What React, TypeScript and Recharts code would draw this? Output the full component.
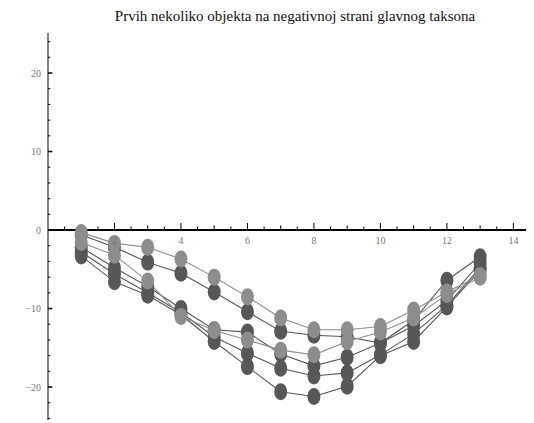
import { type JSX } from 'react';
import {
	LineChart,
	Line,
	XAxis,
	YAxis,
	ReferenceLine,
	ReferenceDot,
} from 'recharts';

// Podaci ocitani sa slike
const xValues = [1, 2, 3, 4, 5, 6, 7, 8, 9, 10, 11, 12, 13];
const light1 = [-0.3, -1.7, -2.2, -3.7, -6.0, -8.5, -11.2, -12.7, -12.7, -12.3, -10.2, -7.9, -5.8];
const dark1 = [-0.6, -2.2, -4.1, -5.5, -7.9, -10.4, -12.9, -13.4, -13.6, -14.4, -11.5, -6.4, -3.4];
const light2 = [-1.6, -3.2, -6.5, -11.0, -12.8, -14.0, -15.3, -15.9, -14.2, -13.0, -11.2, -8.2, -6.0];
const dark2 = [-2.2, -4.8, -7.2, -10.0, -12.7, -13.0, -15.8, -17.3, -16.2, -14.4, -12.2, -9.0, -4.2];
const dark3 = [-2.8, -5.6, -8.0, -10.5, -13.6, -15.7, -17.6, -18.6, -18.2, -15.9, -13.2, -9.6, -4.8];
const dark4 = [-3.3, -6.6, -8.3, -10.8, -14.2, -17.4, -20.6, -21.2, -19.9, -16.0, -14.2, -9.8, -5.1];

const xTickLabels = [2, 4, 6, 8, 10, 12, 14];
const yTickLabels = [-20, -10, 0, 10, 20];
const xMinorTicks = Array.from({ length: 29 }, (_, i) => i * 0.5).filter(v => v > 0);
const yMinorTicks = [-24, -22, -18, -16, -14, -12, -8, -6, -4, -2, 2, 4, 6, 8, 12, 14, 16, 18, 22, 24];
const yMajorTicks = [-20, -10, 10, 20];

const DARK = '#575757';
const LIGHT = '#8d8d8d';

// red crtanja: tamne prvo, svetle preko njih
const series = [
	{ key: 'd4', values: dark4, color: DARK },
	{ key: 'd3', values: dark3, color: DARK },
	{ key: 'd2', values: dark2, color: DARK },
	{ key: 'd1', values: dark1, color: DARK },
	{ key: 'l2', values: light2, color: LIGHT },
	{ key: 'l1', values: light1, color: LIGHT },
];

const data = xValues.map((x, i) => {
	const row: Record<string, number> = { x };
	series.forEach(s => {
		row[s.key] = s.values[i];
	});
	return row;
});

const labelStyle = {
	fontFamily: '"Liberation Serif", serif',
	fontSize: 10,
	fill: '#777',
};

function makeDot(color: string) {
	return (props: any) => {
		const { cx, cy, index } = props;
		if (cx == null || cy == null) return <g key={index} />;
		return <ellipse key={index} cx={cx} cy={cy} rx={6.5} ry={8.5} fill={color} />;
	};
}

export default function App(): JSX.Element {
	return (
		<div style={{ position: 'relative', width: 526, height: 415, background: '#fff' }}>
			<div
				style={{
					position: 'absolute',
					top: 0,
					left: 0,
					width: 574,
					textAlign: 'center',
					fontFamily: '"Liberation Serif", serif',
					fontSize: 15,
					color: '#111',
				}}
			>
				Prvih nekoliko objekta na negativnoj strani glavnog taksona
			</div>
			<LineChart
				width={526}
				height={415}
				data={data}
				margin={{ top: 25, right: 4, bottom: 3, left: 0 }}
			>
				<XAxis type="number" dataKey="x" domain={[0, 14.5]} hide allowDataOverflow />
				<YAxis
					type="number"
					domain={[-24.2, 25.1]}
					ticks={yTickLabels}
					width={40}
					allowDataOverflow
					axisLine={{ stroke: '#000', strokeWidth: 1 }}
					tickLine={false}
					tickSize={5}
					tickMargin={2}
					tick={labelStyle}
					tickFormatter={(v: number) => (v < 0 ? `\u2212${-v}` : `${v}`)}
				/>

				{/* os x kroz nulu */}
				<ReferenceLine y={0} stroke="#000" strokeWidth={2} />
				{xMinorTicks.map(v => (
					<ReferenceLine
						key={`xt${v}`}
						segment={[
							{ x: v, y: 0 },
							{ x: v, y: v % 2 === 0 ? 0.9 : v % 1 === 0 ? 0.6 : 0.45 },
						]}
						stroke="#000"
						strokeWidth={1}
					/>
				))}
				{yMinorTicks.map(v => (
					<ReferenceLine
						key={`yt${v}`}
						segment={[
							{ x: 0, y: v },
							{ x: 0.07, y: v },
						]}
						stroke="#000"
						strokeWidth={1}
					/>
				))}
				{yMajorTicks.map(v => (
					<ReferenceLine
						key={`ym${v}`}
						segment={[
							{ x: 0, y: v },
							{ x: 0.13, y: v },
						]}
						stroke="#000"
						strokeWidth={1.5}
					/>
				))}
				{xTickLabels.map(v => (
					<ReferenceDot
						key={`xl${v}`}
						x={v}
						y={0}
						r={1}
						fill="none"
						stroke="none"
						label={{ value: String(v), position: 'bottom', offset: 6, ...labelStyle }}
					/>
				))}

				{series.map(s => (
					<Line
						key={s.key}
						dataKey={s.key}
						stroke={s.color}
						strokeWidth={1.1}
						dot={makeDot(s.color)}
						activeDot={false}
						isAnimationActive={false}
					/>
				))}
			</LineChart>
		</div>
	);
}
